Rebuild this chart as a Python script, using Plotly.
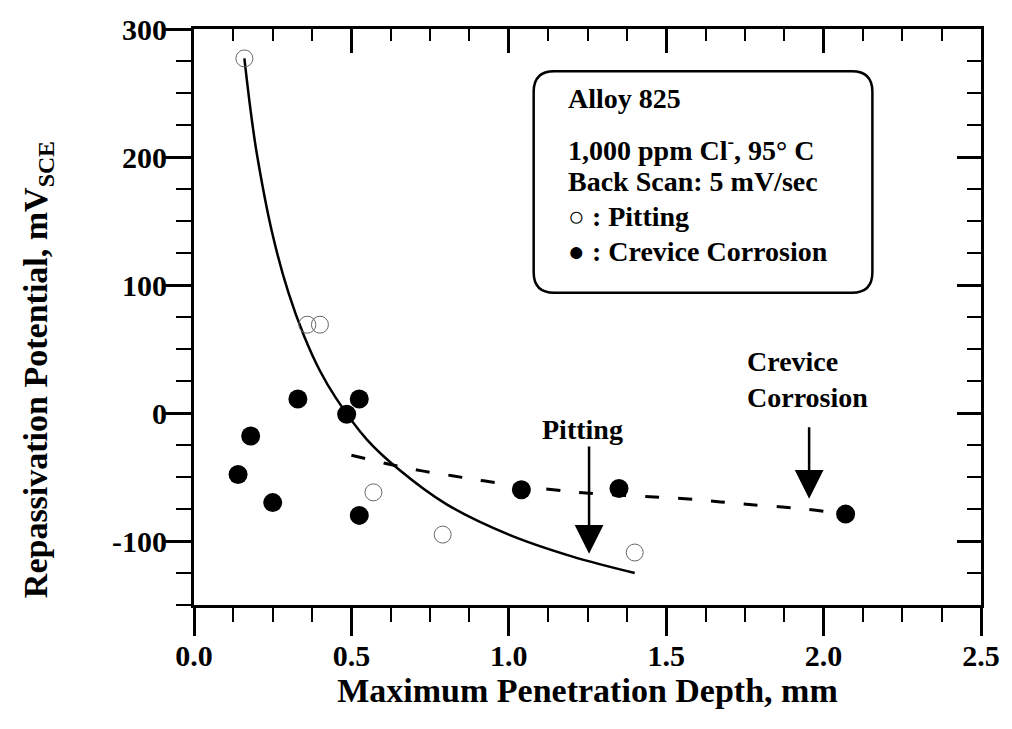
import plotly.graph_objects as go

# ---- data ----
pit_x = [0.16, 0.36, 0.40, 0.57, 0.79, 1.40]
pit_y = [277, 69, 69, -62, -95, -109]

crev_x = [0.14, 0.18, 0.25, 0.33, 0.485, 0.525, 0.525, 1.04, 1.35, 2.07]
crev_y = [-48, -18, -70, 11, -1, 11, -80, -60, -59, -79]

pit_fit_x = [0.16, 0.18, 0.20, 0.25, 0.30, 0.35, 0.40, 0.45, 0.55, 0.65, 0.80, 1.00, 1.20, 1.40]
pit_fit_y = [277, 236, 202, 139, 94, 60, 33, 12, -21, -44, -71, -95, -112, -125]

crev_fit_x = [0.50, 0.62, 0.72, 0.82, 0.92, 1.22, 1.56, 1.74, 1.94, 2.07]
crev_fit_y = [-33, -40, -45, -49, -53, -62, -67, -71, -75, -79]

x_tickvals = [0.0, 0.5, 1.0, 1.5, 2.0, 2.5]
x_ticktext = ["0.0", "0.5", "1.0", "1.5", "2.0", "2.5"]
y_tickvals = [-100, 0, 100, 200, 300]
y_ticktext = ["-100", "0", "100", "200", "300"]

legend_lines = ["Alloy 825", "1,000 ppm Cl<sup>-</sup>, 95° C", "Back Scan: 5 mV/sec",
                "○ : Pitting", "● : Crevice Corrosion"]

x_title = "Maximum Penetration Depth, mm"
y_title = "Repassivation Potential, mV<sub>SCE</sub>"

FONT = "Liberation Serif"
fig = go.Figure()

fig.add_trace(go.Scatter(x=pit_fit_x, y=pit_fit_y, mode="lines",
                         line=dict(color="black", width=2.5, shape="spline"),
                         showlegend=False, hoverinfo="skip"))
fig.add_trace(go.Scatter(x=crev_fit_x, y=crev_fit_y, mode="lines",
                         line=dict(color="black", width=3, dash="14px,19px", shape="spline"),
                         showlegend=False, hoverinfo="skip"))
fig.add_trace(go.Scatter(x=pit_x, y=pit_y, mode="markers", name="Pitting",
                         marker=dict(symbol="circle-open", size=17, color="#666",
                                     line=dict(width=1, color="#666")),
                         showlegend=False))
fig.add_trace(go.Scatter(x=crev_x, y=crev_y, mode="markers", name="Crevice Corrosion",
                         marker=dict(symbol="circle", size=19, color="black"),
                         showlegend=False))
# invisible trace to activate the mirrored (inside-tick) axes
fig.add_trace(go.Scatter(x=crev_x, y=crev_y, mode="markers", xaxis="x2", yaxis="y2",
                         marker=dict(opacity=0), showlegend=False, hoverinfo="skip"))

tickfont = dict(family=FONT, size=30, color="black", weight="bold")
titlefont = dict(family=FONT, size=34, color="black", weight="bold")

fig.update_layout(
    width=1012, height=729,
    margin=dict(l=194, r=24, t=22, b=124),
    paper_bgcolor="white", plot_bgcolor="white",
    xaxis=dict(range=[0, 2.5], tickvals=x_tickvals, ticktext=x_ticktext,
               ticks="outside", ticklen=28, tickwidth=2.5, tickcolor="black",
               minor=dict(dtick=0.125, tick0=0, ticks="outside", ticklen=14,
                          tickwidth=2, tickcolor="black"),
               showline=True, linewidth=3, linecolor="black", mirror=True,
               showgrid=False, zeroline=False, tickfont=tickfont, ticklabelstandoff=-6,
               title=dict(text=x_title, font=titlefont, standoff=8)),
    yaxis=dict(range=[-150, 300], tickvals=y_tickvals, ticktext=y_ticktext,
               ticks="outside", ticklen=26, tickwidth=2.5, tickcolor="black",
               minor=dict(dtick=25, tick0=0, ticks="outside", ticklen=15,
                          tickwidth=2, tickcolor="black"),
               showline=True, linewidth=3, linecolor="black", mirror=True,
               showgrid=False, zeroline=False, tickfont=tickfont, ticklabelstandoff=-8),
    xaxis2=dict(range=[0, 2.5], overlaying="x", side="top", anchor="y",
                tickvals=x_tickvals, ticks="inside", ticklen=24, tickwidth=2.5, tickcolor="black",
                minor=dict(dtick=0.125, tick0=0, ticks="inside", ticklen=12,
                           tickwidth=2, tickcolor="black"),
                showticklabels=False, showline=False, showgrid=False, zeroline=False),
    yaxis2=dict(range=[-150, 300], overlaying="y", side="right", anchor="x",
                tickvals=y_tickvals, ticks="inside", ticklen=24, tickwidth=2.5, tickcolor="black",
                minor=dict(dtick=25, tick0=0, ticks="inside", ticklen=14,
                           tickwidth=2, tickcolor="black"),
                showticklabels=False, showline=False, showgrid=False, zeroline=False),
)

# y-axis title as rotated annotation (reference places it lower than centre)
fig.add_annotation(x=-0.198, y=0.408, xref="paper", yref="paper", text=y_title,
                   textangle=-90, showarrow=False, xanchor="center", yanchor="middle",
                   font=titlefont)

# rounded legend box (data coords)
bx0, bx1, by0, by1 = 1.079, 2.155, 94, 267
rx, ry = 0.065, 16
path = (f"M {bx0+rx},{by1} L {bx1-rx},{by1} Q {bx1},{by1} {bx1},{by1-ry} "
        f"L {bx1},{by0+ry} Q {bx1},{by0} {bx1-rx},{by0} "
        f"L {bx0+rx},{by0} Q {bx0},{by0} {bx0},{by0+ry} "
        f"L {bx0},{by1-ry} Q {bx0},{by1} {bx0+rx},{by1} Z")
fig.add_shape(type="path", path=path, xref="x", yref="y",
              line=dict(color="black", width=2.5), fillcolor="white", layer="below")

legfont = dict(family=FONT, size=28, color="black", weight="bold")
leg_y = [246, 207, 181, 153.5, 126]
for txt, yy in zip(legend_lines, leg_y):
    fig.add_annotation(x=1.183, y=yy, xref="x", yref="y", text=txt, showarrow=False,
                       xanchor="left", yanchor="middle", font=legfont)

# arrows
fig.add_annotation(x=1.255, y=-110, ax=1.255, ay=-25, xref="x", yref="y", axref="x", ayref="y",
                   text="", showarrow=True, arrowhead=2, arrowsize=2.3, arrowwidth=2.5,
                   arrowcolor="black")
fig.add_annotation(x=1.954, y=-67, ax=1.954, ay=-10, xref="x", yref="y", axref="x", ayref="y",
                   text="", showarrow=True, arrowhead=2, arrowsize=2.3, arrowwidth=2.5,
                   arrowcolor="black")
fig.add_annotation(x=1.233, y=-13, xref="x", yref="y", text="Pitting", showarrow=False,
                   xanchor="center", yanchor="middle", font=legfont)
fig.add_annotation(x=1.75, y=26.5, xref="x", yref="y", text="Crevice<br>Corrosion",
                   showarrow=False, xanchor="left", yanchor="middle", align="left", font=legfont)

fig.write_html("out.html")
